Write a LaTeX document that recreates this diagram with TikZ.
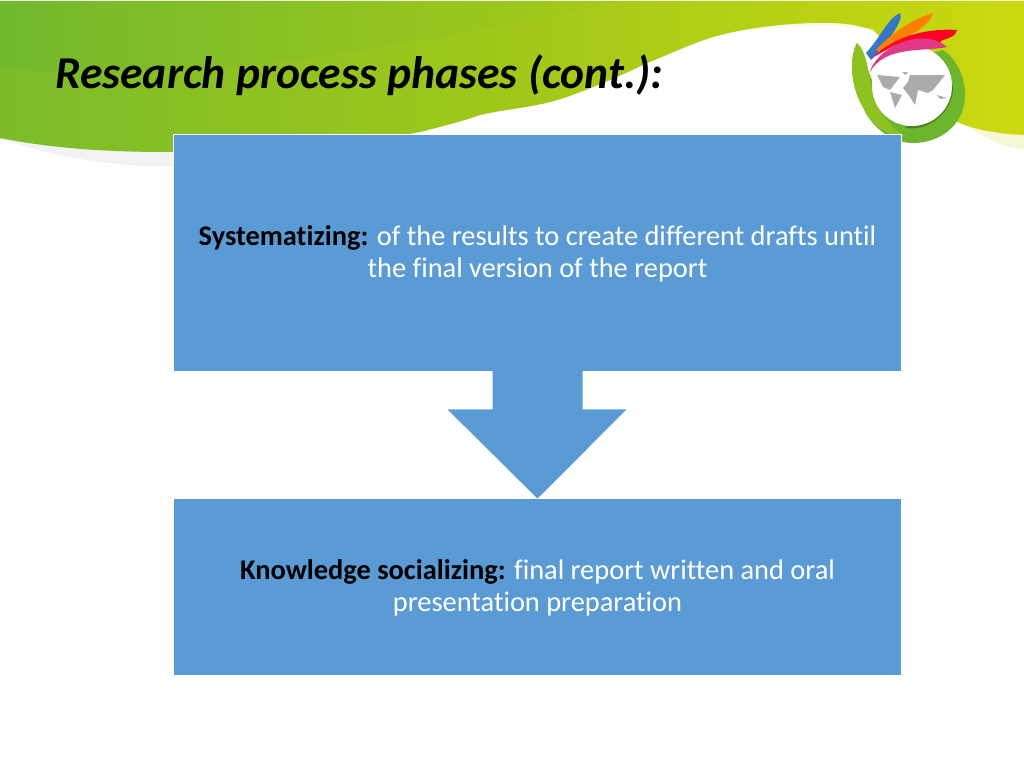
\documentclass[tikz,border=0pt]{standalone}
\usepackage{fontspec}
\setmainfont{Carlito}[Ligatures=NoCommon]
\usetikzlibrary{calc}
\definecolor{boxblue}{HTML}{5B9BD5}
\definecolor{leafgreen}{HTML}{9CC71B}
\definecolor{limegreen}{HTML}{CCD910}
\definecolor{darkgreen}{HTML}{72B92E}
\definecolor{ringgreen}{HTML}{6DB52C}
\tikzset{
  phasebox/.style={fill=boxblue,draw=white,line width=0.8pt,minimum width=728pt},
  phasetext/.style={text=white,align=center,font=\fontsize{28.4}{31.5}\selectfont},
  landmass/.style={fill=black!33}
}
\newcommand{\leadin}[1]{{\color{black}\bfseries #1}}
\begin{document}
\begin{tikzpicture}[x=1pt,y=-1pt]
\useasboundingbox (0,0) rectangle (1024,768);
% banner
\fill[white] (0,0) rectangle (1024,768);
\fill[black!5] (0,139) .. controls (60,158) and (120,168) .. (175,166) -- (175,150) -- (0,136) -- cycle;
\fill[limegreen!18] (957,118) .. controls (980,135) and (1000,148) .. (1024,149) -- (1024,130) -- cycle;
\shade[left color=darkgreen,right color=limegreen,middle color=leafgreen]
  (0,1) -- (1024,1) -- (1024,135) .. controls (1000,134) and (975,130) .. (957,122)
  -- (873,30) .. controls (855,24) and (835,22) .. (813,23)
  .. controls (780,24) and (745,28) .. (713,37)
  .. controls (690,44) and (670,54) .. (647,63)
  .. controls (620,76) and (595,87) .. (567,97)
  .. controls (535,108) and (510,108) .. (480,115)
  .. controls (460,122) and (440,127) .. (420,132)
  .. controls (340,148) and (250,152) .. (167,152)
  .. controls (105,152) and (50,148) .. (0,138) -- cycle;
\fill[limegreen,opacity=.1] (0,68) .. controls (150,85) and (350,60) .. (620,1) -- (1024,1) -- (1024,135)
  .. controls (1000,134) and (975,130) .. (957,122) -- (873,30) .. controls (835,22) and (745,28) .. (713,37)
  .. controls (670,54) and (595,87) .. (567,97) .. controls (510,108) and (460,122) .. (420,132)
  .. controls (340,148) and (250,152) .. (167,152) .. controls (105,152) and (50,148) .. (0,138) -- cycle;
\fill[white] (873,30) -- (957,122) -- (900,140) -- (850,100) -- (850,28) -- cycle;
% logo
\fill[ringgreen] (857,43) .. controls (848,60) and (852,90) .. (863,107)
  .. controls (870,125) and (890,143) .. (913,143)
  .. controls (940,143) and (965,125) .. (965,95)
  .. controls (965,75) and (955,58) .. (943,50) -- (905,60) -- (880,100) -- cycle;
\fill[leafgreen!70!ringgreen] (857,43) .. controls (848,60) and (852,90) .. (863,107)
  .. controls (870,125) and (890,138) .. (905,136)
  .. controls (885,125) and (872,100) .. (871,85)
  .. controls (868,70) and (866,50) .. (857,43) -- cycle;
\fill[ringgreen!70!black] (905,128) .. controls (930,132) and (955,110) .. (953,85) -- (945,85) -- (915,120) -- cycle;
\fill[white] (912,86) circle (40);
\fill[cyan!45!blue!85!white] (866,53) .. controls (880,38) and (888,18) .. (900,13) .. controls (905,20) and (885,45) .. (871,60) -- cycle;
\fill[orange] (876,50) .. controls (895,30) and (915,18) .. (933,13) .. controls (930,28) and (900,40) .. (882,52) -- cycle;
\fill[red!85!magenta] (872,58) .. controls (895,35) and (930,28) .. (957,30) .. controls (955,42) and (930,38) .. (945,46) -- (895,45) -- cycle;
\fill[magenta!65!purple!85!white] (870,72) .. controls (875,50) and (920,25) .. (947,47) .. controls (925,52) and (885,45) .. (870,72) -- cycle;
\fill[landmass] (877,75) -- (900,77) -- (890,90) -- (883,87) -- cycle;
\fill[landmass] (890,92) -- (902,95) -- (895,108) -- cycle;
\fill[landmass] (910,75) -- (945,75) -- (933,90) -- (928,93) -- (918,90) -- (915,105) -- (910,97) -- (903,88) -- (908,82) -- cycle;
\fill[landmass] (937,95) -- (947,98) -- (940,99) -- cycle;
\fill[landmass] (902,72) -- (908,72) -- (905,75) -- cycle;
% title
\node[anchor=west,inner sep=0pt,font=\fontsize{45.6}{54}\selectfont\bfseries\itshape] (title) at (55,75) {Research process phases (cont.):};
% phases
\node[phasebox,minimum height=237pt] (sys) at (537.5,252.5) {};
\node[phasebox,minimum height=177pt] (know) at (537.5,586.5) {};
\node[phasetext] (systext) at ([yshift=-1.5pt]sys.center) {\leadin{Systematizing:} of the results to create different drafts until\\the final version of the report};
\node[phasetext] (knowtext) at ([yshift=-1.5pt]know.center) {\leadin{Knowledge socializing:} final report written and oral\\presentation preparation};
% arrow
\fill[boxblue] ($(sys.south)+(-45,-1)$) -- ($(sys.south)+(45,-1)$) -- ++(0,39) -- ++(44,0)
  -- ($(know.north)+(0,1)$) -- ($(sys.south)+(-90,38)$) -- ++(45,0) -- cycle;
\end{tikzpicture}
\end{document}
